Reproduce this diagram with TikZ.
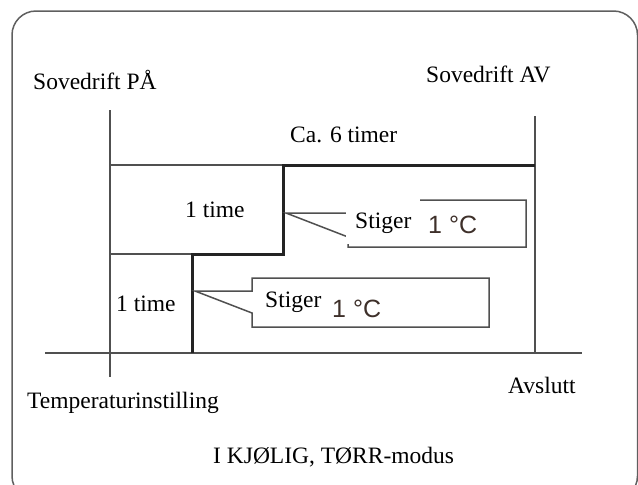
\documentclass[tikz,border=0pt]{standalone}
\usepackage{fontspec}
\setmainfont{Liberation Serif}
\newfontfamily\degfont{Liberation Sans}
\definecolor{framegray}{RGB}{95,95,95}
\definecolor{linegray}{RGB}{80,80,80}
\definecolor{stepdark}{RGB}{35,35,35}
\definecolor{degbrown}{RGB}{62,48,42}

\begin{document}
\begin{tikzpicture}[x=1pt, y=-1pt,
  every node/.style={font=\fontsize{23.5}{28}\selectfont, inner sep=0pt, anchor=base west},
  thin line/.style={draw=linegray, line width=1.5pt},
  step line/.style={draw=stepdark, line width=3pt, line join=miter},
  callout/.style={draw=linegray, line width=1.5pt},
  degree/.style={font=\degfont\fontsize{25}{30}\selectfont, text=degbrown}]
  \useasboundingbox (0,0) rectangle (638,485);
  \clip (0,0) rectangle (638,485);
  \draw[framegray, line width=1.5pt, rounded corners=24pt] (12,11) rectangle (637.5,500);
  \coordinate (on top) at (110,110);
  \coordinate (on low) at (110,377);
  \coordinate (off top) at (535,116);
  \coordinate (off low) at (535,353);
  \coordinate (axis w) at (45,353);
  \coordinate (axis e) at (582,353);
  \coordinate (start) at (192,353);
  \coordinate (rise1) at (192,254);
  \coordinate (rise1 end) at (283,254);
  \coordinate (rise2) at (283,165);
  \coordinate (hold end) at (535,165);
  \draw[thin line] (axis w) -- (axis e);
  \draw[thin line] (on top) -- (on low);
  \draw[thin line] (off top) -- (off low);
  \draw[thin line] (on top |- rise2) -- (rise2);
  \draw[thin line] (on top |- rise1) -- (rise1);
  \draw[step line] (start) -- (rise1) -- (rise1 end) -- (rise2) -- (hold end);
  \coordinate (tip1) at (195,291);
  \coordinate (tip2) at (286,213);
  \draw[callout] (tip1) -- (252,291) -- (252,278) -- (489,278) -- (489,327) -- (252,327) -- (252,313) -- cycle;
  \draw[callout] (tip2) -- (348,213) -- (348,200) -- (526,200) -- (526,247) -- (348,247) -- (348,237) -- cycle;
  \node (sleep on) at (33,89) {Sovedrift PÅ};
  \node (sleep off) at (426,82) {Sovedrift AV};
  \node (duration) at (290,142) {Ca. 6 timer};
  \node (hour2) at (185,217) {1 time};
  \node (hour1) at (116,311) {1 time};
  \node[fill=white, inner xsep=9pt, inner ysep=10pt, text height=20pt, text depth=6pt] (rise2 txt) at (346,228) {Stiger};
  \node[degree] (rise2 deg) at (428,233) {1 °C};
  \node (rise1 txt) at (265,307) {Stiger};
  \node[degree] (rise1 deg) at (332,317) {1 °C};
  \node (setting) at (27,408) {Temperaturinstilling};
  \node (finish) at (508,393) {Avslutt};
  \node (mode) at (213,463) {I KJØLIG, TØRR-modus};
\end{tikzpicture}
\end{document}
